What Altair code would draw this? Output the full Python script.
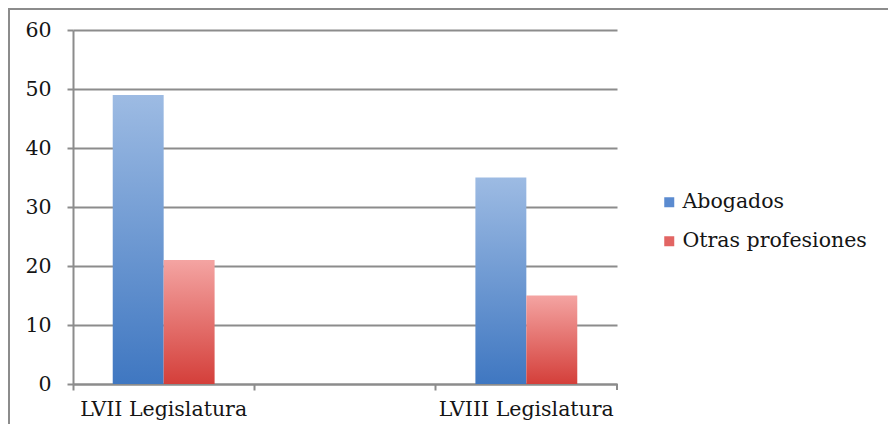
import altair as alt
import pandas as pd

categories = ["LVII Legislatura", " ", "LVIII Legislatura"]
bar_categories = ["LVII Legislatura", "LVIII Legislatura"]
series = ["Abogados", "Otras profesiones"]
abogados = [49, 35]
otras = [21, 15]
y_ticks = [0, 10, 20, 30, 40, 50, 60]

rows = []
for c, a, o in zip(bar_categories, abogados, otras):
    rows.append({"cat": c, "serie": series[0], "value": a})
    rows.append({"cat": c, "serie": series[1], "value": o})
df = pd.DataFrame(rows)

FONT = "DejaVu Serif"
GRID = "#8c8c8c"
TEXT = "#151515"
FS = 20.5

blue_grad = alt.Gradient(
    gradient="linear", x1=0, x2=0, y1=0, y2=1,
    stops=[alt.GradientStop(color="#9dbbe3", offset=0),
           alt.GradientStop(color="#3f77c1", offset=1)],
)
red_grad = alt.Gradient(
    gradient="linear", x1=0, x2=0, y1=0, y2=1,
    stops=[alt.GradientStop(color="#f4a4a2", offset=0),
           alt.GradientStop(color="#d43f3a", offset=1)],
)

x_enc = alt.X(
    "cat:N",
    scale=alt.Scale(domain=categories, paddingInner=0, paddingOuter=0),
    axis=alt.Axis(
        title=None, labelAngle=0, bandPosition=0, ticks=True, tickSize=6,
        tickColor=GRID, tickWidth=2, domainColor=GRID, domainWidth=2,
        labelFont=FONT, labelFontSize=FS, labelColor=TEXT, labelPadding=9,
        grid=False, labelLimit=400,
    ),
)
y_enc = alt.Y(
    "value:Q",
    scale=alt.Scale(domain=[0, 60], nice=False),
    axis=alt.Axis(
        title=None, values=y_ticks, tickSize=6, tickColor=GRID, tickWidth=2,
        domainColor=GRID, domainWidth=2, gridColor=GRID, gridWidth=2,
        labelFont=FONT, labelFontSize=FS, labelColor=TEXT, labelPadding=16,
    ),
)
xoff = alt.XOffset(
    "serie:N",
    scale=alt.Scale(domain=series, paddingInner=0, paddingOuter=0.78),
)

base = alt.Chart(df)

bars_blue = base.transform_filter(alt.datum.serie == series[0]).mark_bar(
    color=blue_grad
).encode(x=x_enc, y=y_enc, xOffset=xoff)

bars_red = base.transform_filter(alt.datum.serie == series[1]).mark_bar(
    color=red_grad
).encode(x=x_enc, y=y_enc, xOffset=xoff)

legend_layer = base.mark_square(opacity=0, size=1).encode(
    x=x_enc,
    y=y_enc,
    color=alt.Color(
        "serie:N",
        scale=alt.Scale(domain=series, range=["#5b8bd0", "#e26563"]),
        legend=alt.Legend(
            title=None, orient="none", legendX=586, legendY=162,
            symbolType="square", symbolSize=100, symbolOpacity=1,
            symbolStrokeWidth=0, labelFont=FONT, labelFontSize=FS,
            labelColor=TEXT, labelOffset=3, rowPadding=18, padding=0,
            labelLimit=400,
        ),
    ),
)

end_tick = base.mark_rule(color=GRID, strokeWidth=2).encode(
    x=alt.value(544), y=alt.value(354), y2=alt.value(360)
)

border_top = base.mark_rule(color="#8c8c8c", strokeWidth=2).encode(
    x=alt.value(-65), x2=alt.value(900), y=alt.value(-21)
)
border_left = base.mark_rule(color="#8c8c8c", strokeWidth=2).encode(
    x=alt.value(-64), y=alt.value(-22), y2=alt.value(500)
)

chart = alt.layer(
    bars_blue, bars_red, legend_layer, end_tick, border_top, border_left
).properties(
    width=544, height=354,
    padding={"left": 65, "top": 22, "right": 271, "bottom": 40},
    autosize=alt.AutoSizeParams(type="none"),
).configure_view(stroke=None)

chart.save("out.html", embed_options={"renderer": "svg", "actions": False})
